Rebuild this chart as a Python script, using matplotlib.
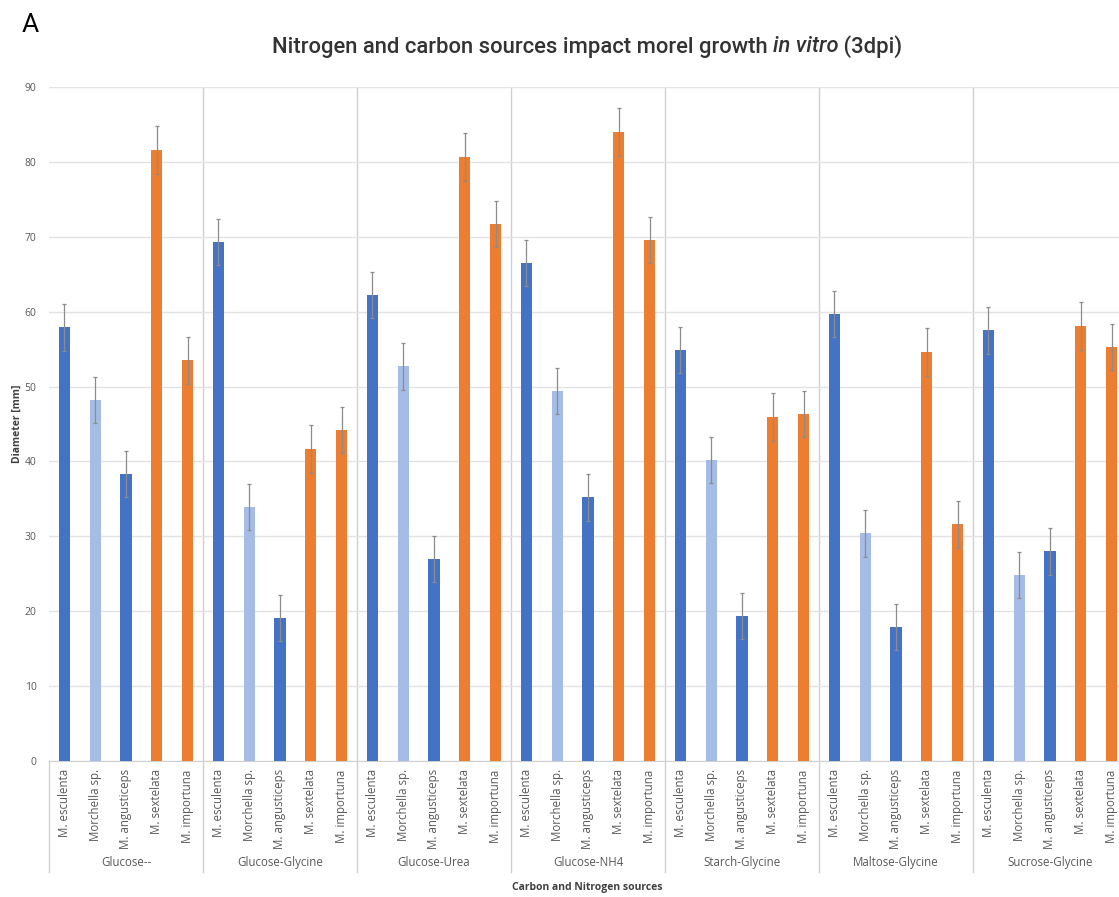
import numpy as np
import matplotlib
matplotlib.use("Agg")
import matplotlib.pyplot as plt
import matplotlib.transforms as mtransforms

# Data
groups = ["Glucose--", "Glucose-Glycine", "Glucose-Urea", "Glucose-NH4",
          "Starch-Glycine", "Maltose-Glycine", "Sucrose-Glycine"]
species = ["M. esculenta", "Morchella sp.", "M. angusticeps", "M. sextelata", "M. importuna"]

esculenta = [57.9, 69.3, 62.2, 66.5, 54.9, 59.7, 57.5]
morchella_sp = [48.2, 33.9, 52.7, 49.4, 40.2, 30.4, 24.8]
angusticeps = [38.3, 19.1, 27.0, 35.2, 19.4, 17.9, 28.0]
sextelata = [81.6, 41.7, 80.6, 84.0, 45.9, 54.6, 58.1]
importuna = [53.5, 44.2, 71.7, 69.6, 46.3, 31.6, 55.3]
errors = [3.1, 3.1, 3.1, 3.2, 3.1]

series = [esculenta, morchella_sp, angusticeps, sextelata, importuna]
colors = ["#4472C4", "#A5BDE6", "#4472C4", "#ED7D31", "#ED7D31"]

plt.rcParams['font.family'] = ['Open Sans', 'DejaVu Sans']

fig = plt.figure(figsize=(11.19, 8.97), dpi=100)
ax = fig.add_axes([49 / 1119, 1 - 761 / 897, 1078 / 1119, 674 / 897])

n_sp = len(species)
bar_w = 0.36
x_all, lab_all = [], []
for g in range(len(groups)):
    for s in range(n_sp):
        x_all.append(g * n_sp + s + 0.5)
        lab_all.append(species[s])

for s, vals in enumerate(series):
    xs = [g * n_sp + s + 0.5 for g in range(len(groups))]
    ax.bar(xs, vals, width=bar_w, color=colors[s], zorder=3,
           yerr=errors[s], error_kw=dict(ecolor="#8c8c8c", elinewidth=0.9,
                                         capsize=1.5, capthick=0.9, zorder=4))

ax.set_xlim(0, len(groups) * n_sp)
ax.set_ylim(0, 90)
ax.set_yticks(np.arange(0, 91, 10))
ax.tick_params(axis='y', length=0, labelsize=7.5, labelcolor="#595959", pad=9)
ax.yaxis.grid(True, color="#e3e3e3", linewidth=1, zorder=0)

ax.set_xticks(x_all)
ax.set_xticklabels(lab_all, rotation=90, fontsize=8.3, color="#595959")
ax.tick_params(axis='x', length=0, pad=6)

for side in ["top", "right", "left"]:
    ax.spines[side].set_visible(False)
ax.spines["bottom"].set_color("#d0d0d0")

trans = mtransforms.blended_transform_factory(ax.transData, ax.transAxes)
for g in range(len(groups) + 1):
    xg = g * n_sp
    top = 1.0 if g > 0 else 0.0
    ax.plot([xg, xg], [-0.165, top], transform=trans, color="#d0d0d0",
            linewidth=1, clip_on=False, zorder=1)
for g, name in enumerate(groups):
    ax.text(g * n_sp + n_sp / 2, -0.150, name, transform=trans, ha="center",
            va="center", fontsize=8.3, color="#595959")

ax.set_ylabel("Diameter [mm]", fontsize=7.5, fontweight="bold", color="#404040", labelpad=1)
fig.text(587 / 1119, 1 - 887 / 897, "Carbon and Nitrogen sources", ha="center",
         va="center", fontsize=7.5, fontweight="bold", color="#404040")

fig.text(30 / 1119, 1 - 25 / 897, "A", ha="center", va="center", fontsize=19,
         family=["Roboto", "DejaVu Sans"])

# Title with an italic part, drawn piece by piece
pieces = [("Nitrogen and carbon sources impact morel growth ", "normal"),
          ("in vitro", "italic"), (" (3dpi)", "normal")]
fig.canvas.draw()
renderer = fig.canvas.get_renderer()
texts = []
for txt, style in pieces:
    t = fig.text(0, 1 - 47 / 897, txt, fontsize=15.8, fontweight="medium",
                 style=style, color="#333333", va="center", ha="left",
                 family=["Roboto", "DejaVu Sans"])
    texts.append(t)
widths = [t.get_window_extent(renderer).width for t in texts]
total = sum(widths)
x0 = 587 - total / 2
for t, w in zip(texts, widths):
    t.set_x(x0 / 1119)
    x0 += w

fig.savefig("out.png", dpi=100)
